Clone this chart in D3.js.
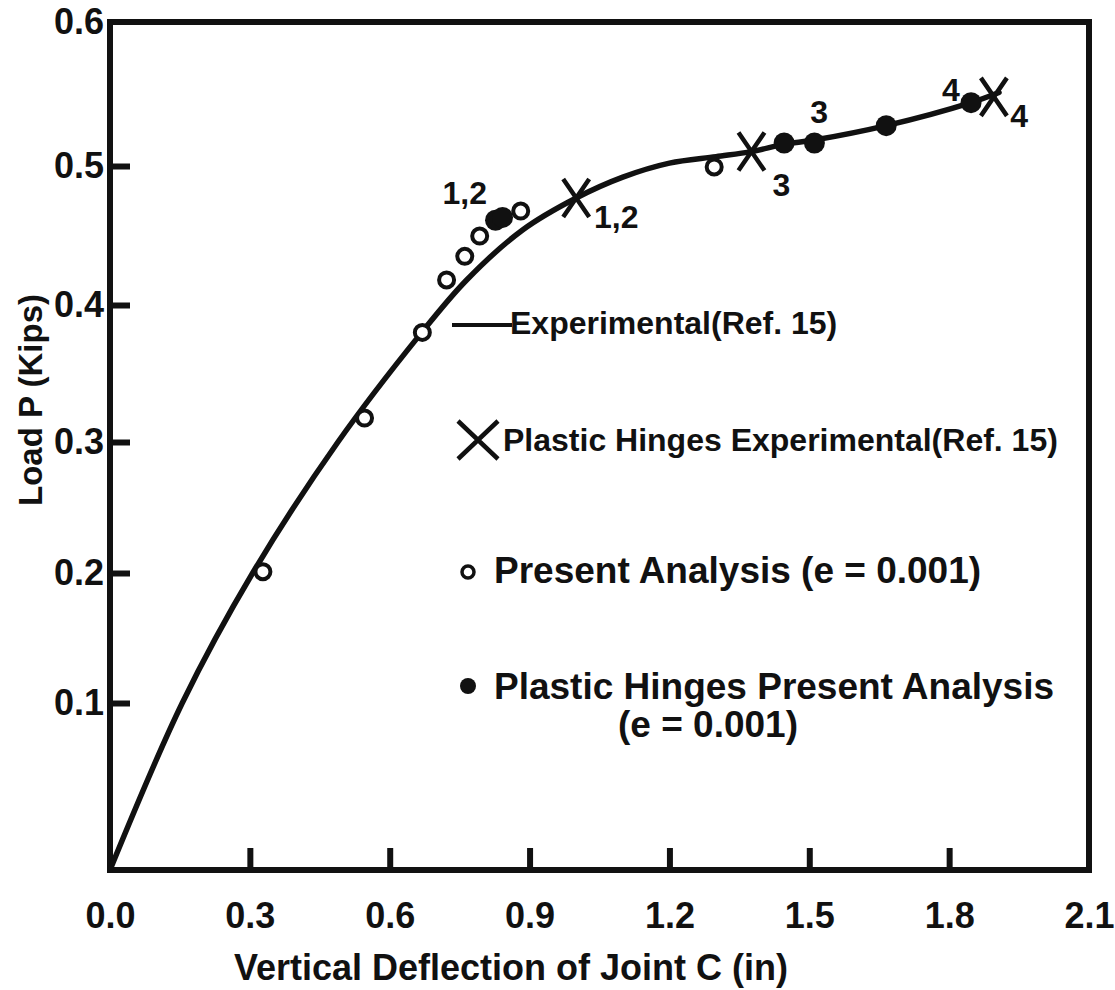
<!DOCTYPE html>
<html>
<head>
<meta charset="utf-8">
<script src="https://cdn.jsdelivr.net/npm/d3@7"></script>
<style>
  body { margin: 0; background: #fff; }
  svg text { font-family: "Liberation Sans", Arial, sans-serif; font-weight: bold; fill: #111; }
</style>
</head>
<body>
<svg id="chart" width="1115" height="990"></svg>
<script>
// tick values
const xTicks = [0, 0.3, 0.6, 0.9, 1.2, 1.5, 1.8, 2.1];
const yTicks = [0.1, 0.2, 0.3, 0.4, 0.5, 0.6];

// experimental load-deflection curve (Ref. 15)
const expX = [0, 0.155, 0.306, 0.489, 0.664, 0.765, 0.885, 1.0, 1.1, 1.2, 1.3, 1.376, 1.446, 1.511, 1.665, 1.847, 1.907];
const expY = [0, 0.1, 0.2, 0.3, 0.378, 0.418, 0.454, 0.477, 0.492, 0.502, 0.5065, 0.510, 0.515, 0.518, 0.528, 0.544, 0.551];

// plastic hinges, experimental
const expHingeX = [1.0, 1.376, 1.896];
const expHingeY = [0.477, 0.510, 0.548];

// present analysis (e = 0.001)
const presX = [0.328, 0.546, 0.67, 0.722, 0.761, 0.793, 0.881, 1.296];
const presY = [0.201, 0.3175, 0.380, 0.418, 0.435, 0.4496, 0.4676, 0.4993];

// plastic hinges, present analysis
const hingeX = [0.827, 0.842, 1.446, 1.511, 1.665, 1.847];
const hingeY = [0.461, 0.463, 0.516, 0.516, 0.528, 0.544];

// hinge numbers written next to the marks
const hingeLabels = ["1,2", "1,2", "3", "3", "4", "4"];
const hingeLabelX = [0.761, 1.086, 1.44, 1.521, 1.804, 1.95];
const hingeLabelY = [0.4806, 0.463, 0.486, 0.5375, 0.553, 0.535];

const svg = d3.select("#chart");

// the drawn axis is slightly uneven, so the scale follows the ticks
const x = d3.scaleLinear().domain([0, 2.1]).range([110, 1089]);
const y = d3.scaleLinear().domain([0, 0.1, 0.2, 0.3, 0.4, 0.5, 0.6])
  .range([870, 703, 573, 442, 305, 166, 22]);

// axes
const xAxis = svg.append("g")
  .attr("transform", `translate(0,${y(0)})`)
  .call(d3.axisBottom(x).tickValues(xTicks).tickFormat(d3.format(".1f"))
    .tickSizeInner(-22).tickSizeOuter(0).tickPadding(32));
xAxis.select(".domain").remove();
xAxis.selectAll(".tick line").attr("stroke", "#111").attr("stroke-width", 6)
  .filter(d => d === 0 || d === 2.1).remove();
xAxis.selectAll(".tick text").attr("font-size", 36).attr("fill", "#111");

const yAxis = svg.append("g")
  .attr("transform", `translate(${x(0)},0)`)
  .call(d3.axisLeft(y).tickValues(yTicks).tickFormat(d3.format(".1f"))
    .tickSizeInner(-20).tickSizeOuter(0).tickPadding(6));
yAxis.select(".domain").remove();
yAxis.selectAll(".tick line").attr("stroke", "#111").attr("stroke-width", 6)
  .filter(d => d === 0.6).remove();
yAxis.selectAll(".tick text").attr("font-size", 36).attr("fill", "#111");

// frame
svg.append("rect")
  .attr("x", x(0)).attr("y", y(0.6))
  .attr("width", x(2.1) - x(0)).attr("height", y(0) - y(0.6))
  .attr("fill", "none").attr("stroke", "#111").attr("stroke-width", 6);

// axis titles
svg.append("text")
  .attr("x", x(0.86)).attr("y", 980)
  .attr("text-anchor", "middle").attr("font-size", 36)
  .text("Vertical Deflection of Joint C (in)");

svg.append("text")
  .attr("transform", `translate(42,400) rotate(-90)`)
  .attr("text-anchor", "middle").attr("font-size", 33)
  .text("Load P (Kips)");

// experimental curve
const expData = expX.map((v, i) => [v, expY[i]]);
svg.append("path")
  .datum(expData)
  .attr("fill", "none").attr("stroke", "#111").attr("stroke-width", 5.5)
  .attr("stroke-linejoin", "round").attr("stroke-linecap", "round")
  .attr("d", d3.line().x(d => x(d[0])).y(d => y(d[1])).curve(d3.curveCatmullRom.alpha(0.5)));

// present analysis circles
svg.append("g").selectAll("circle")
  .data(presX.map((v, i) => [v, presY[i]]))
  .join("circle")
  .attr("cx", d => x(d[0])).attr("cy", d => y(d[1])).attr("r", 7.5)
  .attr("fill", "#fff").attr("stroke", "#111").attr("stroke-width", 4);

// plastic hinges, present analysis
svg.append("g").selectAll("circle")
  .data(hingeX.map((v, i) => [v, hingeY[i]]))
  .join("circle")
  .attr("cx", d => x(d[0])).attr("cy", d => y(d[1])).attr("r", 10.5)
  .attr("fill", "#111");

// plastic hinges, experimental
function cross(g, cx, cy, hw, hh) {
  g.append("path")
    .attr("d", `M${cx - hw},${cy - hh}L${cx + hw},${cy + hh}M${cx + hw},${cy - hh}L${cx - hw},${cy + hh}`)
    .attr("stroke", "#111").attr("stroke-width", 4.5).attr("fill", "none");
}
const crosses = svg.append("g");
expHingeX.forEach((v, i) => cross(crosses, x(v), y(expHingeY[i]), 13, 19));

// hinge numbers
svg.append("g").selectAll("text")
  .data(hingeLabels.map((t, i) => ({ t, x: hingeLabelX[i], y: hingeLabelY[i] })))
  .join("text")
  .attr("x", d => x(d.x)).attr("y", d => y(d.y))
  .attr("text-anchor", "middle").attr("dominant-baseline", "central")
  .attr("font-size", 32)
  .text(d => d.t);

// legend
const legend = svg.append("g");
legend.append("line")
  .attr("x1", 452).attr("x2", 512).attr("y1", 325).attr("y2", 325)
  .attr("stroke", "#111").attr("stroke-width", 4);
legend.append("text").attr("x", 510).attr("y", 323).attr("dominant-baseline", "central")
  .attr("font-size", 32).text("Experimental(Ref. 15)");

cross(legend, 478, 440, 20, 19);
legend.append("text").attr("x", 503).attr("y", 440).attr("dominant-baseline", "central")
  .attr("font-size", 32).text("Plastic Hinges Experimental(Ref. 15)");

legend.append("circle").attr("cx", 468).attr("cy", 572).attr("r", 6)
  .attr("fill", "#fff").attr("stroke", "#111").attr("stroke-width", 3.5);
legend.append("text").attr("x", 494).attr("y", 570).attr("dominant-baseline", "central")
  .attr("font-size", 37).text("Present Analysis (e = 0.001)");

legend.append("circle").attr("cx", 468).attr("cy", 686).attr("r", 8).attr("fill", "#111");
legend.append("text").attr("x", 494).attr("y", 686).attr("dominant-baseline", "central")
  .attr("font-size", 37).text("Plastic Hinges Present Analysis");
legend.append("text").attr("x", 708).attr("y", 724).attr("dominant-baseline", "central")
  .attr("text-anchor", "middle").attr("font-size", 37).text("(e = 0.001)");
</script>
</body>
</html>
